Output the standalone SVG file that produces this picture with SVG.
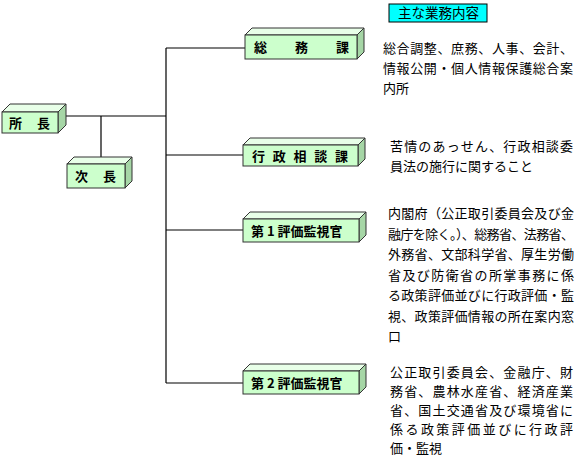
<svg xmlns="http://www.w3.org/2000/svg" width="579" height="459" viewBox="0 0 579 459">
<style>
.front{fill:#ccffcc;stroke:#333;stroke-width:1}
.top{fill:#e8ffe8;stroke:#333;stroke-width:1}
.side{fill:#a6d6a6;stroke:#333;stroke-width:1}
.lbl{font-family:"Noto Sans CJK JP","Noto Sans CJK SC",sans-serif;font-size:13px;font-weight:bold;fill:#000}
.body{font-family:"Noto Sans CJK JP","Noto Sans CJK SC",sans-serif;font-size:13px;fill:#000}
.conn{stroke:#000;stroke-width:1.2;fill:none}
</style>
<rect width="579" height="459" fill="#fff"/>
<g id="connectors">
<path class="conn" d="M66,116 H166 M101,116 V157 M166,48 V383 M166,48 H245 M166,155 H243 M166,230 H243 M166,383 H243"/>
</g>
<g id="shocho">
<polygon class="top" points="2,112 10,104 66,104 58,112"/>
<polygon class="side" points="58,112 66,104 66,125 58,133"/>
<rect class="front" x="2" y="112" width="56" height="21"/>
<text class="lbl" x="9" y="128">所</text><text class="lbl" x="37" y="128">長</text>
</g>
<g id="jicho">
<polygon class="top" points="67,164 74,157 132,157 125,164"/>
<polygon class="side" points="125,164 132,157 132,181 125,188"/>
<rect class="front" x="67" y="164" width="58" height="24"/>
<text class="lbl" x="75" y="181">次</text><text class="lbl" x="103" y="181">長</text>
</g>
<g id="somuka">
<polygon class="top" points="245,35 252,28 364,28 357,35"/>
<polygon class="side" points="357,35 364,28 364,52 357,59"/>
<rect class="front" x="245" y="35" width="112" height="24"/>
<text class="lbl" x="254" y="52">総</text><text class="lbl" x="295" y="52">務</text><text class="lbl" x="336" y="52">課</text>
</g>
<g id="gyoseisodanka">
<polygon class="top" points="243,145 250,138 365,138 358,145"/>
<polygon class="side" points="358,145 365,138 365,159 358,166"/>
<rect class="front" x="243" y="145" width="115" height="21"/>
<text class="lbl" x="252" y="161" textLength="96" lengthAdjust="spacing">行政相談課</text>
</g>
<g id="hyoka1">
<polygon class="top" points="243,219 250,212 366,212 359,219"/>
<polygon class="side" points="359,219 366,212 366,235 359,242"/>
<rect class="front" x="243" y="219" width="116" height="23"/>
<text class="lbl" x="251" y="236">第 1 評価監視官</text>
</g>
<g id="hyoka2">
<polygon class="top" points="243,371 250,364 366,364 359,371"/>
<polygon class="side" points="359,371 366,364 366,387 359,394"/>
<rect class="front" x="243" y="371" width="116" height="23"/>
<text class="lbl" x="251" y="388">第 2 評価監視官</text>
</g>
<g id="header">
<rect x="389" y="4" width="98" height="18" fill="#00ffff" stroke="#000" stroke-width="1"/>
<text class="body" x="398" y="18" style="font-size:13.5px">主な業務内容</text>
</g>
<g id="text-somu" class="body">
<text x="383" y="53" textLength="190" lengthAdjust="spacing">総合調整、庶務、人事、会計、</text>
<text x="383" y="73" textLength="190" lengthAdjust="spacing">情報公開・個人情報保護総合案</text>
<text x="383" y="93">内所</text>
</g>
<g id="text-gyosei" class="body">
<text x="390" y="151" textLength="183" lengthAdjust="spacing">苦情のあっせん、行政相談委</text>
<text x="390" y="171">員法の施行に関すること</text>
</g>
<g id="text-hyoka1" class="body">
<text x="388" y="218" textLength="186" lengthAdjust="spacing">内閣府（公正取引委員会及び金</text>
<text x="388" y="238.5" textLength="186" lengthAdjust="spacing">融庁を除く。）、総務省、法務省、</text>
<text x="388" y="259" textLength="186" lengthAdjust="spacing">外務省、文部科学省、厚生労働</text>
<text x="388" y="279.5" textLength="186" lengthAdjust="spacing">省及び防衛省の所掌事務に係</text>
<text x="388" y="300" textLength="186" lengthAdjust="spacing">る政策評価並びに行政評価・監</text>
<text x="388" y="320.5" textLength="186" lengthAdjust="spacing">視、政策評価情報の所在案内窓</text>
<text x="388" y="341">口</text>
</g>
<g id="text-hyoka2" class="body">
<text x="390" y="377" textLength="183" lengthAdjust="spacing">公正取引委員会、金融庁、財</text>
<text x="390" y="396" textLength="183" lengthAdjust="spacing">務省、農林水産省、経済産業</text>
<text x="390" y="415" textLength="183" lengthAdjust="spacing">省、国土交通省及び環境省に</text>
<text x="390" y="434" textLength="183" lengthAdjust="spacing">係る政策評価並びに行政評</text>
<text x="390" y="453">価・監視</text>
</g>
</svg>
